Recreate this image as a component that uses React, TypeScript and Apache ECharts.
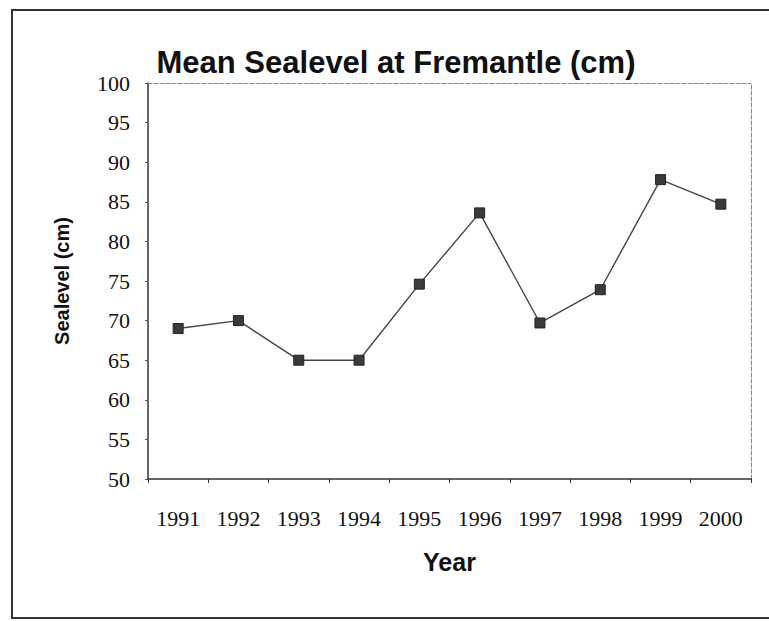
import React, { useEffect, useRef } from "react";
import * as echarts from "echarts";

const years = ["1991", "1992", "1993", "1994", "1995", "1996", "1997", "1998", "1999", "2000"];
const sealevel = [69, 70, 65, 65, 74.6, 83.6, 69.7, 73.9, 87.8, 84.7];
const yMin = 50;
const yMax = 100;
const yStep = 5;

export default function App() {
  const ref = useRef<HTMLDivElement>(null);
  useEffect(() => {
    if (!ref.current) return;
    const chart = echarts.init(ref.current, null, { renderer: "svg" });
    const serif = "'Liberation Serif', 'Times New Roman', serif";
    const sans = "'Liberation Sans', Arial, sans-serif";
    chart.setOption({
      animation: false,
      backgroundColor: "#ffffff",
      title: {
        text: "Mean Sealevel at Fremantle (cm)",
        left: 391,
        top: 42,
        textAlign: "center",
        textStyle: { fontFamily: sans, fontWeight: "bold", fontSize: 31, color: "#111" },
      },
      graphic: [
        {
          type: "rect",
          shape: { x: 12, y: 10, width: 800, height: 608 },
          style: { fill: "none", stroke: "#333", lineWidth: 2 },
          silent: true,
          z: -1,
        },
      ],
      grid: { left: 148, right: 18, top: 83, bottom: 142, containLabel: false },
      xAxis: [
        {
          type: "category",
          data: years,
          boundaryGap: true,
          name: "Year",
          nameLocation: "middle",
          nameGap: 70,
          nameTextStyle: { fontFamily: sans, fontWeight: "bold", fontSize: 25, color: "#111" },
          axisLine: { lineStyle: { color: "#333", width: 1.5 } },
          axisTick: { show: true, length: 4, alignWithLabel: false, lineStyle: { color: "#333" } },
          axisLabel: { fontFamily: serif, fontSize: 22, color: "#111", margin: 28 },
          splitLine: { show: false },
        },
        {
          type: "category",
          data: years,
          position: "top",
          axisLine: { lineStyle: { color: "#888", type: "dashed", width: 1 } },
          axisTick: { show: false },
          axisLabel: { show: false },
          splitLine: { show: false },
        },
      ],
      yAxis: [
        {
          type: "value",
          min: yMin,
          max: yMax,
          interval: yStep,
          name: "Sealevel (cm)",
          nameLocation: "middle",
          nameRotate: 90,
          nameGap: 76,
          nameTextStyle: { fontFamily: sans, fontWeight: "bold", fontSize: 20, color: "#111" },
          axisLine: { show: true, lineStyle: { color: "#333", width: 1.5 } },
          axisTick: { show: true, length: 3, lineStyle: { color: "#555" } },
          axisLabel: { fontFamily: serif, fontSize: 22, color: "#111", margin: 18 },
          splitLine: { show: false },
        },
        {
          type: "value",
          min: yMin,
          max: yMax,
          interval: yStep,
          position: "right",
          axisLine: { show: true, lineStyle: { color: "#888", type: "dashed", width: 1 } },
          axisTick: { show: false },
          axisLabel: { show: false },
          splitLine: { show: false },
        },
      ],
      series: [
        {
          type: "line",
          data: sealevel,
          xAxisIndex: 0,
          yAxisIndex: 0,
          symbol: "rect",
          symbolSize: 10,
          itemStyle: { color: "#3a3a3a", borderColor: "#222", borderWidth: 1 },
          lineStyle: { color: "#444", width: 1.4 },
        },
      ],
    });
    return () => chart.dispose();
  }, []);
  return (
    <div
      ref={ref}
      style={{ position: "absolute", left: 0, top: 0, width: 769, height: 621 }}
    />
  );
}
